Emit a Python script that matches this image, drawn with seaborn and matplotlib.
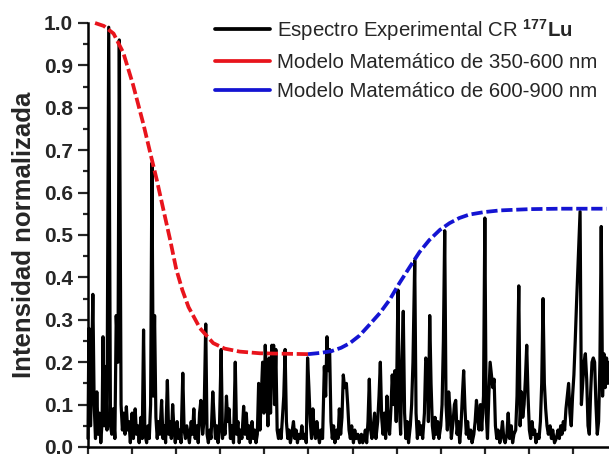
import numpy as np
import pandas as pd
import matplotlib
matplotlib.use("Agg")
import matplotlib.pyplot as plt
import seaborn as sns

# experimental spectrum (wavelength in nm, normalized intensity)
wl_exp = [350, 351, 353, 355.5, 357, 358.5, 360, 361.5, 363, 364.5, 366, 367, 368.5, 370, 371.5,
          373.5, 375.5, 377, 378.5, 380.5, 382, 384, 385.5, 387.5, 389, 390.5, 392, 393.5, 395,
          396.5, 398, 400, 401.5, 403.5, 405, 406.5, 408, 410, 411.5, 413, 414.5, 416.5, 418,
          419.5, 421, 422.5, 424, 425.5, 427, 428.5, 430, 431.5, 433.5, 435, 436.5, 438, 440,
          441.5, 443, 444.5, 446, 447.5, 449, 451, 452.5, 454, 455.5, 457.5, 459, 460.5, 462,
          463.5, 465, 467, 468.5, 470, 471.5, 473.5, 475, 476.5, 478, 480, 481.5, 483.5, 485,
          486.5, 488, 489.5, 491.5, 493, 494.5, 496, 497.5, 499, 501, 502.5, 504, 505.5, 507,
          508.5, 510, 511.5, 513, 515, 517, 518.5, 520, 521.5, 523, 524.5, 526.5, 528, 529.5,
          531, 532.5, 534, 536, 537.5, 539, 540.5, 542, 543.5, 545, 546.5, 548, 549.5, 551,
          552.5, 554, 555.5, 557, 558.5, 559.5, 560.5, 561.5, 563, 564.5, 566, 567.5, 569,
          570.5, 572, 573.5, 575, 576.5, 578, 579.5, 581, 583, 584.5, 586, 587.5, 589, 591,
          592.5, 594, 596, 597.5, 599, 600.5, 602, 603.5, 605, 606.5, 608, 609.5, 611, 612.5,
          614, 616, 618, 619.5, 621, 622.5, 624, 625.5, 627, 628.5, 630, 632, 633.5, 635,
          636.5, 638, 639.5, 641, 643, 644.5, 646, 647.5, 649, 651, 652.5, 654, 656, 658, 660,
          661.5, 663, 664.5, 666, 667.5, 669, 670.5, 672, 673.5, 675, 676.5, 678.5, 680, 681.5,
          683, 684.5, 686, 687.5, 689, 690.5, 692, 693.5, 695, 696.5, 698, 699.5, 701.5, 703,
          704.5, 706, 707.5, 709, 710.5, 712, 713.5, 715.5, 717, 718.5, 720.5, 722, 723.5, 725,
          726.5, 728, 729.5, 731.5, 733, 734.5, 736, 737.5, 739, 740.5, 742, 743.5, 745, 746.5,
          748, 750, 751.5, 753, 754.5, 756, 757.5, 759, 760.5, 762, 764, 765.5, 767, 768.5, 770,
          771.5, 773, 774.5, 776, 777.5, 779, 780.5, 782, 784, 785.5, 787.5, 789, 790.5, 792,
          793.5, 795, 796.5, 798.5, 800, 801.5, 803, 804.5, 806, 807.5, 809, 810.5, 812, 813.5,
          815, 817, 818.5, 820, 821.5, 823, 825, 826.5, 828, 830, 831.5, 833, 835, 836.5, 838.5,
          840, 841.5, 843, 844.5, 846, 847.5, 849, 850.5, 852, 853.5, 855, 856.5, 858, 860,
          861.5, 863, 864.5, 866, 867.5, 869, 870.5, 872, 874, 875.5, 877, 879, 881, 883, 884.5,
          886, 887.5, 889, 890.5, 892, 893.5, 895, 896.5, 898, 899.5, 901, 902.5, 904, 906, 908,
          909.5, 911, 912.5, 914, 915.5, 917, 918.5, 920, 921.5, 923, 924.5, 926, 927.5, 929,
          930.5, 932, 933.5, 935, 936.5, 938, 939.5, 941]
int_exp = [0.02, 0.28, 0.05, 0.36, 0.10, 0.02, 0.13, 0.03, 0.08, 0.01, 0.06, 0.26, 0.05, 0.19, 0.04,
           0.99, 0.05, 0.03, 0.09, 0.02, 0.31, 0.20, 0.96, 0.10, 0.04, 0.08, 0.03, 0.095, 0.04,
           0.06, 0.01, 0.08, 0.02, 0.09, 0.03, 0.05, 0.01, 0.07, 0.02, 0.276, 0.03, 0.01, 0.05,
           0.02, 0.10, 0.67, 0.12, 0.31, 0.07, 0.02, 0.06, 0.03, 0.11, 0.02, 0.05, 0.01, 0.157,
           0.03, 0.06, 0.02, 0.10, 0.04, 0.01, 0.06, 0.02, 0.04, 0.01, 0.174, 0.04, 0.02, 0.05,
           0.03, 0.01, 0.06, 0.03, 0.09, 0.02, 0.05, 0.01, 0.08, 0.11, 0.03, 0.06, 0.29, 0.03,
           0.01, 0.04, 0.02, 0.13, 0.07, 0.02, 0.05, 0.01, 0.04, 0.23, 0.02, 0.05, 0.03, 0.12,
           0.06, 0.09, 0.02, 0.05, 0.01, 0.20, 0.03, 0.06, 0.01, 0.04, 0.02, 0.096, 0.03, 0.08,
           0.02, 0.05, 0.01, 0.06, 0.02, 0.04, 0.01, 0.03, 0.15, 0.04, 0.12, 0.20, 0.08, 0.24,
           0.15, 0.05, 0.21, 0.08, 0.24, 0.15, 0.24, 0.10, 0.23, 0.04, 0.02, 0.04, 0.02,
           0.07, 0.12, 0.23, 0.06, 0.02, 0.04, 0.01, 0.03, 0.06, 0.02, 0.04, 0.01, 0.03, 0.02,
           0.05, 0.02, 0.03, 0.01, 0.21, 0.14, 0.06, 0.02, 0.09, 0.04, 0.02, 0.06, 0.03, 0.01,
           0.04, 0.02, 0.19, 0.12, 0.26, 0.18, 0.23, 0.06, 0.02, 0.05, 0.01, 0.04, 0.02, 0.09,
           0.03, 0.07, 0.17, 0.14, 0.15, 0.10, 0.04, 0.02, 0.05, 0.01, 0.04, 0.02, 0.03, 0.01, 0.03,
           0.01, 0.02, 0.04, 0.01, 0.06, 0.16, 0.04, 0.02, 0.05, 0.08, 0.02, 0.06, 0.12, 0.20,
           0.07, 0.03, 0.08, 0.02, 0.12, 0.05, 0.03, 0.09, 0.17, 0.10, 0.18, 0.06, 0.37, 0.10,
           0.03, 0.20, 0.32, 0.08, 0.02, 0.06, 0.01, 0.05, 0.10, 0.20, 0.44, 0.08, 0.02, 0.06,
           0.03, 0.05, 0.02, 0.08, 0.21, 0.20, 0.06, 0.31, 0.15, 0.05, 0.02, 0.07, 0.03, 0.06,
           0.02, 0.05, 0.10, 0.25, 0.51, 0.10, 0.04, 0.13, 0.09, 0.02, 0.06, 0.10, 0.11, 0.03, 0.06,
           0.01, 0.05, 0.12, 0.18, 0.09, 0.03, 0.06, 0.02, 0.04, 0.01, 0.03, 0.06, 0.11, 0.07,
           0.04, 0.10, 0.04, 0.12, 0.54, 0.08, 0.02, 0.12, 0.20, 0.17, 0.14, 0.16, 0.05, 0.02,
           0.04, 0.01, 0.03, 0.06, 0.02, 0.01, 0.03, 0.08, 0.02, 0.05, 0.01, 0.03, 0.04, 0.12, 0.38,
           0.05, 0.13, 0.07, 0.10, 0.16, 0.24, 0.12, 0.04, 0.02, 0.06, 0.03, 0.04, 0.01, 0.03,
           0.02, 0.06, 0.15, 0.35, 0.15, 0.09, 0.05, 0.03, 0.05, 0.02, 0.04, 0.01, 0.02, 0.04, 0.02,
           0.05, 0.03, 0.06, 0.04, 0.09, 0.12, 0.15, 0.08, 0.05, 0.12, 0.17, 0.25, 0.34, 0.45, 0.555,
           0.10, 0.15, 0.20, 0.22, 0.16, 0.05, 0.03, 0.13, 0.20, 0.21, 0.20, 0.10, 0.03, 0.06,
           0.20, 0.52, 0.12, 0.22, 0.14, 0.21, 0.15, 0.20]

# mathematical model 350-600 nm
wl_red = [358, 368, 379, 390, 401, 413, 421, 428, 436, 443, 450, 457, 464, 477, 492, 505, 522, 545, 573, 599.5]
int_red = [1.0, 0.993, 0.975, 0.93, 0.855, 0.76, 0.69, 0.63, 0.555, 0.49, 0.42, 0.37, 0.33, 0.28,
           0.245, 0.232, 0.225, 0.221, 0.220, 0.219]

# mathematical model 600-900 nm
wl_blue = [599.5, 614, 626, 637, 647, 658, 669, 681, 692, 703, 715, 726, 737, 749, 760, 771, 782,
           799, 817, 851, 885, 938]
int_blue = [0.219, 0.222, 0.226, 0.234, 0.245, 0.263, 0.288, 0.316, 0.347, 0.386, 0.425, 0.46,
            0.488, 0.512, 0.528, 0.540, 0.548, 0.554, 0.558, 0.561, 0.562, 0.562]

labels = [r"Espectro Experimental CR $^{\mathbf{177}}\mathbf{Lu}$",
          "Modelo Matemático de 350-600 nm",
          "Modelo Matemático de 600-900 nm"]

sns.set_style("ticks")
plt.rcParams["font.family"] = ["Liberation Sans", "DejaVu Sans"]
plt.rcParams["mathtext.fontset"] = "custom"
plt.rcParams["mathtext.rm"] = "Liberation Sans"
plt.rcParams["mathtext.bf"] = "Liberation Sans:bold"

fig = plt.figure(figsize=(6.09, 4.54), dpi=100)
ax = fig.add_axes([88 / 609, 7 / 454, 521 / 609, 424 / 454])

df_exp = pd.DataFrame({"wl": wl_exp, "y": int_exp})
df_red = pd.DataFrame({"wl": wl_red, "y": int_red})
df_blue = pd.DataFrame({"wl": wl_blue, "y": int_blue})

sns.lineplot(data=df_exp, x="wl", y="y", color="black", lw=2.3, sort=False,
             estimator=None, ax=ax, label=labels[0], clip_on=False)
sns.lineplot(data=df_red, x="wl", y="y", color="#e8141c", lw=2.7, sort=False,
             estimator=None, ax=ax, label=labels[1], clip_on=False, dashes=False)
sns.lineplot(data=df_blue, x="wl", y="y", color="#1414d2", lw=2.7, sort=False,
             estimator=None, ax=ax, label=labels[2], clip_on=False, dashes=False)
for ln in ax.lines[1:]:
    ln.set_linestyle((0, (3.0, 1.0)))

ax.set_xlim(350, 940.8)
ax.set_ylim(0, 1.0)
ax.set_xticks(np.arange(350, 941, 50))
ax.set_yticks(np.arange(0, 1.01, 0.1))
ax.set_yticks(np.arange(0.05, 1.0, 0.1), minor=True)
ax.set_yticklabels([f"{v:.1f}" for v in np.arange(0, 1.01, 0.1)], fontsize=15, fontweight="bold")
ax.tick_params(axis="x", labelbottom=False, length=8, width=1.6, direction="out")
ax.tick_params(axis="y", which="major", length=7.2, width=1.6, direction="out", pad=3.6)
ax.tick_params(axis="y", which="minor", length=3.6, width=1.6, direction="out")
ax.set_xlabel("")
ax.set_ylabel("Intensidad normalizada", fontsize=18.5, fontweight="bold", labelpad=6)
sns.despine(ax=ax, top=True, right=True)
for s in ["left", "bottom"]:
    ax.spines[s].set_linewidth(1.8)
    ax.spines[s].set_color("black")

leg = ax.legend(loc="upper left", bbox_to_anchor=(207 / 609, 0.981), bbox_transform=fig.transFigure,
                frameon=False, fontsize=14.7, handlelength=2.7, handletextpad=0.34,
                labelspacing=0.5, borderaxespad=0)
for h in leg.get_lines():
    h.set_linestyle("-")
    h.set_linewidth(2.7)

fig.savefig("out.png", dpi=100)
